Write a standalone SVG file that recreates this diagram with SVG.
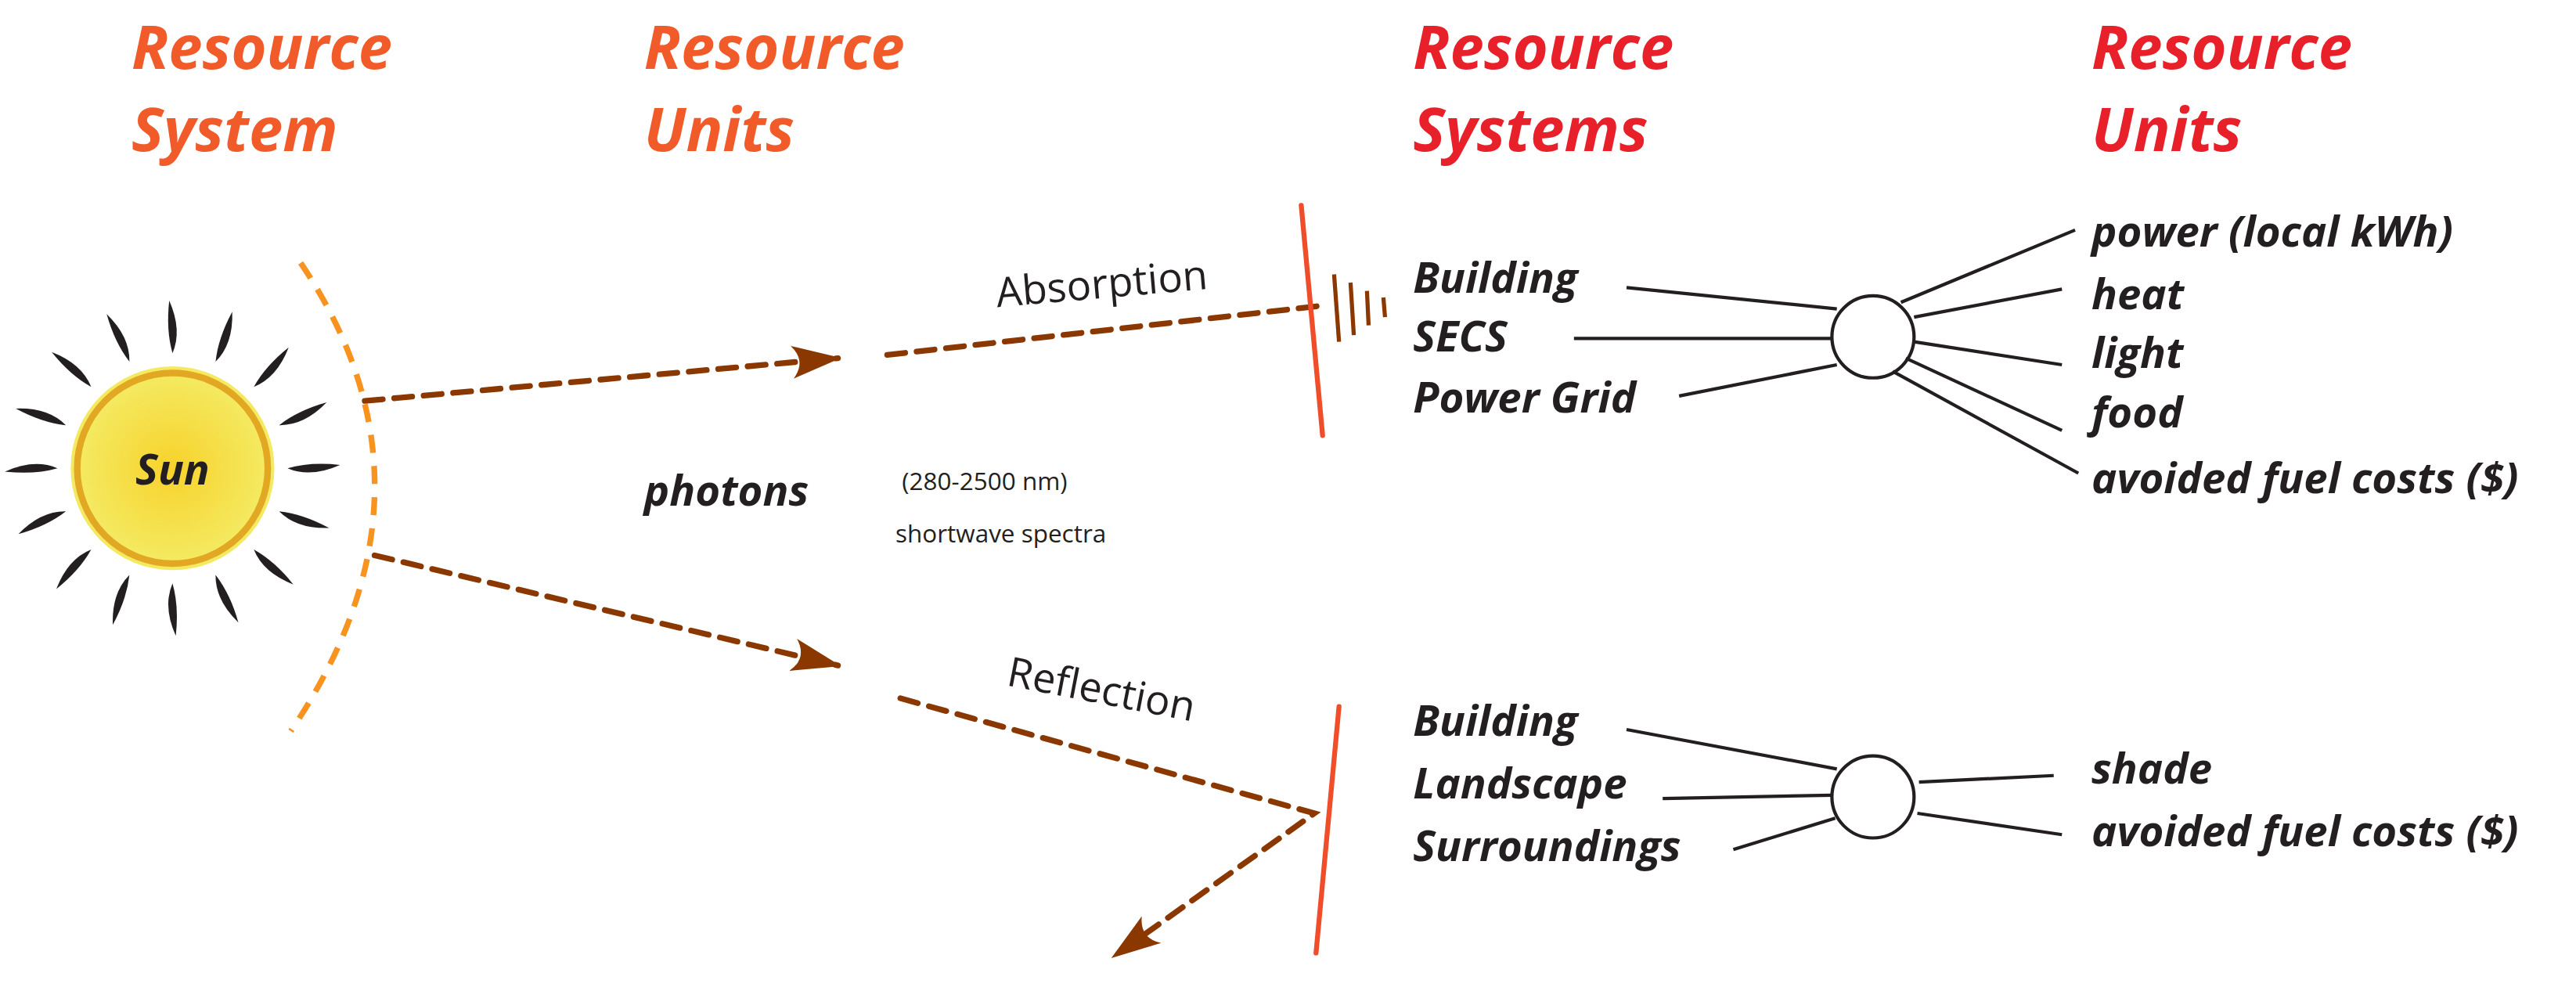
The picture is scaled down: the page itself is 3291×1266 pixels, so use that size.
<svg xmlns="http://www.w3.org/2000/svg" xmlns:xlink="http://www.w3.org/1999/xlink" width="3291" height="1266" viewBox="0 0 3291 1266">
<style>
.h{font-family:"Open Sans","Liberation Sans",sans-serif;font-weight:bold;font-style:italic;font-size:37px}
.o{fill:#f15a29}.r{fill:#e8202a}
.l{font-family:"Open Sans","Liberation Sans",sans-serif;font-weight:bold;font-style:italic;font-size:26px;fill:#231f20}
.t{font-family:"Open Sans","Liberation Sans",sans-serif;font-size:25px;fill:#231f20}
.s{font-family:"Open Sans","Liberation Sans",sans-serif;font-size:15px;fill:#231f20}
.ar{fill:none;stroke:#8a3800;stroke-width:3.5;stroke-dasharray:11 7;stroke-linecap:round}
.k{stroke:#231f20;stroke-width:2;fill:none}
.red{stroke:#f04e2a;stroke-width:3;stroke-linecap:round}
</style>
<defs>
<marker id="ah" viewBox="0 0 30 20" refX="28" refY="10" markerWidth="30" markerHeight="20" markerUnits="userSpaceOnUse" orient="auto">
<path d="M0,0 L30,10 L0,20 Q9,10 0,0Z" fill="#8a3800"/>
</marker>
<radialGradient id="sg"><stop offset="0" stop-color="#f7d22b"/><stop offset="1" stop-color="#f4ea62"/></radialGradient>
<path id="ray" d="M0,-70 Q6,-84 -2,-102 Q-4,-84 0,-70Z" fill="#231f20"/>
</defs>
<g transform="scale(2.099)">
<g id="headers">
<text class="h o" x="80" y="42">Resource</text><text class="h o" x="80" y="92">System</text>
<text class="h o" x="392" y="42">Resource</text><text class="h o" x="392" y="92">Units</text>
<text class="h r" x="860" y="42">Resource</text><text class="h r" x="860" y="92">Systems</text>
<text class="h r" x="1273" y="42">Resource</text><text class="h r" x="1273" y="92">Units</text>
</g>
<g id="sun" transform="translate(105,285)">
<g>
<use xlink:href="#ray" transform="rotate(0)"/><use xlink:href="#ray" transform="rotate(22)"/><use xlink:href="#ray" transform="rotate(45)"/><use xlink:href="#ray" transform="rotate(68)"/><use xlink:href="#ray" transform="rotate(90)"/><use xlink:href="#ray" transform="rotate(112)"/><use xlink:href="#ray" transform="rotate(135)"/><use xlink:href="#ray" transform="rotate(158)"/><use xlink:href="#ray" transform="rotate(180)"/><use xlink:href="#ray" transform="rotate(202)"/><use xlink:href="#ray" transform="rotate(225)"/><use xlink:href="#ray" transform="rotate(248)"/><use xlink:href="#ray" transform="rotate(270)"/><use xlink:href="#ray" transform="rotate(292)"/><use xlink:href="#ray" transform="rotate(315)"/><use xlink:href="#ray" transform="rotate(338)"/>
</g>
<circle r="62" fill="#f4ea62"/>
<circle r="58" fill="url(#sg)" stroke="#e2a823" stroke-width="4"/>
<text class="l" x="0" y="10" text-anchor="middle" font-size="27">Sun</text>
</g>
<path id="arc" d="M183,160 Q276,298 177,445" fill="none" stroke="#f7931e" stroke-width="3.5" stroke-dasharray="11 8"/>
<g id="connectors">
<path class="ar" d="M222,244 L510,218" marker-end="url(#ah)"/>
<path class="ar" d="M540,216 L805,186"/>
<path class="ar" d="M228,338 L510,405" marker-end="url(#ah)"/>
<path class="ar" d="M548,425 L800,495 L678,582" marker-end="url(#ah)"/>
<g stroke="#8a3800" stroke-width="2.5">
<line x1="812" y1="167" x2="815" y2="208"/><line x1="822" y1="172" x2="824" y2="204"/><line x1="832" y1="177" x2="833" y2="198"/><line x1="842" y1="181" x2="843" y2="193"/>
</g>
<line class="red" x1="792" y1="125" x2="805" y2="265"/>
<line class="red" x1="815" y1="430" x2="801" y2="580"/>
<line class="k" x1="990" y1="175" x2="1118" y2="188"/>
<line class="k" x1="958" y1="206" x2="1115" y2="206"/>
<line class="k" x1="1022" y1="241" x2="1118" y2="222"/>
<line class="k" x1="1157" y1="184" x2="1263" y2="140"/>
<line class="k" x1="1165" y1="193" x2="1255" y2="176"/>
<line class="k" x1="1165" y1="208" x2="1255" y2="222"/>
<line class="k" x1="1160" y1="218" x2="1255" y2="262"/>
<line class="k" x1="1152" y1="226" x2="1265" y2="288"/>
<line class="k" x1="990" y1="444" x2="1118" y2="468"/>
<line class="k" x1="1012" y1="486" x2="1115" y2="484"/>
<line class="k" x1="1055" y1="517" x2="1117" y2="498"/>
<line class="k" x1="1168" y1="476" x2="1250" y2="472"/>
<line class="k" x1="1167" y1="495" x2="1255" y2="508"/>
</g>
<g id="labels">
<text class="t" transform="translate(607,187) rotate(-5)">Absorption</text>
<text class="t" transform="translate(612,417) rotate(11)">Reflection</text>
<text class="l" x="392" y="308">photons</text>
<text class="s" x="549" y="298">(280-2500 nm)</text>
<text class="s" x="545" y="330">shortwave spectra</text>
</g>
<g id="hub1">
<circle cx="1140" cy="205" r="25" fill="#fff" class="k"/>
<text class="l" x="860" y="178">Building</text><text class="l" x="860" y="214">SECS</text><text class="l" x="860" y="251">Power Grid</text>
<text class="l" x="1273" y="150">power (local kWh)</text><text class="l" x="1273" y="188">heat</text><text class="l" x="1273" y="224">light</text><text class="l" x="1273" y="260">food</text><text class="l" x="1273" y="300">avoided fuel costs ($)</text>
</g>
<g id="hub2">
<circle cx="1140" cy="485" r="25" fill="#fff" class="k"/>
<text class="l" x="860" y="448">Building</text><text class="l" x="860" y="486">Landscape</text><text class="l" x="860" y="524">Surroundings</text>
<text class="l" x="1273" y="477">shade</text><text class="l" x="1273" y="515">avoided fuel costs ($)</text>
</g>
</g>
</svg>
